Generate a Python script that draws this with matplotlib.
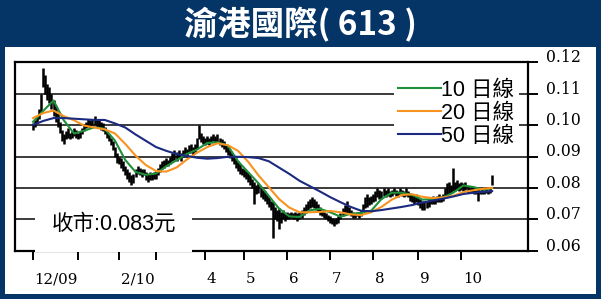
import numpy as np
import matplotlib.pyplot as plt
from matplotlib.patches import Rectangle

# daily high / low (in thousandths of HK$), trading days from 1 Dec 2009
hi = [100.5, 101.5, 103, 105, 110, 118, 116, 113, 112, 110,
      108, 106, 104, 101, 98.5, 97, 98, 99, 97.5, 98,
      99, 98.5, 97.5, 98, 99, 100, 101, 102, 101.5, 102,
      103, 102, 101.5, 101, 100.5, 99.5, 98.5, 97, 96, 95,
      93, 91, 90, 89.5, 88.5, 87, 86, 85, 84, 84.5,
      86, 87, 86.5, 86, 86, 85, 84.5, 85, 84.5, 85,
      85.5, 86.5, 87.5, 88.5, 89, 89.5, 89, 90, 91, 92,
      91.5, 92, 91, 92, 93, 92.5, 93.5, 94, 93, 94,
      96, 100, 97.5, 96.5, 96, 96.5, 96, 96.5, 97, 96.5,
      97, 96, 95.5, 95, 94, 93, 92, 91, 90, 89.5,
      88.5, 87.5, 86.5, 86, 85.5, 85, 84, 83, 82, 81,
      81.5, 80, 79.5, 79, 78, 77, 76, 75.5, 74, 73,
      73.5, 72.5, 73, 72, 72.5, 72, 72.5, 72, 72.5, 72,
      72.5, 73, 74, 75, 76, 76.5, 77, 76.5, 76, 75,
      74, 73, 72.5, 72, 71.5, 71, 70.5, 70, 70.5, 71,
      72, 73.5, 74.5, 76, 74, 73, 72.5, 72, 72.5, 72,
      73, 75, 77, 78, 77, 77.5, 78, 79, 80, 79.5,
      79, 80, 79.5, 80, 79, 79.5, 80, 79.5, 79, 80,
      79.5, 79, 80, 79, 78.5, 78, 77.5, 78, 77, 76.5,
      76, 75.5, 76, 76.5, 77, 77.5, 77, 77.5, 78, 77.5,
      78, 80, 81.5, 82, 81, 86.5, 82, 82.5, 81.5, 82,
      81.5, 82, 80.5, 80, 80.5, 80, 79.5, 80, 79.5, 80,
      79.5, 80, 79.5, 80, 84]
lo = [98.5, 99.5, 100.5, 102, 104, 112, 110, 108, 107, 105,
      103, 101, 99.5, 97.5, 95, 94, 95.5, 96, 95.5, 96,
      96.5, 96, 95.5, 96, 97, 98, 99, 99.5, 99, 100,
      100, 99.5, 99, 98.5, 98, 97, 96, 95, 93.5, 92,
      90, 88, 87.5, 86.5, 85.5, 84, 83, 82, 81, 81.5,
      83.5, 84.5, 84, 83.5, 84, 82.5, 82, 82.5, 82.5, 83,
      83, 84, 85, 86, 86.5, 87, 87, 87.5, 88.5, 89,
      88.5, 89.5, 88.5, 90, 90.5, 90, 91, 91, 90.5, 91.5,
      92.5, 95.5, 94.5, 94, 93.5, 94, 93.5, 94.5, 95, 94.5,
      94.5, 93.5, 93, 92.5, 91.5, 90.5, 89.5, 88.5, 87.5, 86.5,
      85.5, 84.5, 84, 83.5, 83, 82, 81, 80, 75, 78,
      78.5, 77, 76.5, 76, 75, 74, 73, 64, 70, 69.5,
      67, 69, 70, 69.5, 70, 70, 70.5, 70, 70, 69.5,
      70, 70.5, 71.5, 72, 73, 73.5, 74, 73.5, 73, 72.5,
      71.5, 71, 70.5, 70, 69.5, 69, 68.5, 68, 68.5, 69,
      70, 71, 71.5, 72, 72, 71, 70.5, 70.5, 71, 70.5,
      71, 72.5, 73.5, 74, 74.5, 75, 75.5, 76, 77, 76.5,
      76.5, 77.5, 77, 77.5, 77, 77.5, 78, 77.5, 77, 78,
      77.5, 77, 77.5, 77, 76, 75.5, 75, 75.5, 74.5, 73.5,
      73, 73, 73.5, 74, 75, 75, 75, 75.5, 75.5, 75.5,
      76, 77, 77.5, 78, 78.5, 79, 79, 79.5, 79, 79.5,
      79, 79.5, 78.5, 78.5, 78.5, 78, 78, 76, 78, 78,
      78, 78.5, 78, 78.5, 81]
last_close = 0.083

# moving averages read every 5 trading days
ma_days = list(range(0, 221, 5)) + [224]
ma10 = [101, 104.5, 107.8, 101.5, 97.3, 98.2, 99.3, 98.8, 95, 88.9,
        85.1, 84.2, 84.6, 86.9, 88.8, 90.8, 92.2, 94.3, 94.5, 93.5,
        88.5, 85, 81.5, 77.5, 73.5, 71, 70.8, 72.9, 73.4, 72.3,
        70.9, 71.8, 72.1, 72.8, 76.5, 78.5, 78.5, 77.8, 76.3, 76.5,
        77, 78.5, 80.8, 80.3, 79.4, 80]
ma20 = [102.2, 103.8, 104.6, 102.8, 101.5, 99.8, 99.2, 98.6, 97.3, 94,
        90.3, 87.3, 85.4, 85.2, 86.5, 89, 91.2, 93, 94.2, 93.6,
        91.8, 88.3, 84, 80.3, 76.5, 73.8, 72.3, 72.3, 72.4, 72.7,
        72.3, 71.6, 71.4, 72.3, 74, 76.3, 77.8, 78, 77.2, 76.8,
        77, 77.5, 78.7, 79.3, 79.8, 80]
ma50 = [100, 101.3, 102.2, 102.2, 102, 101.8, 101.6, 101.6, 100.5, 99.2,
        97, 95, 93, 91.8, 90.8, 90.2, 89.6, 89.3, 89.5, 89.9,
        89.9, 89.8, 89.5, 88.5, 86.5, 84.5, 82.3, 80.6, 78.9, 77.1,
        75.5, 74, 72.8, 72.6, 73, 73.5, 74, 74.6, 75.4, 76,
        76.6, 77.3, 78.1, 78.5, 78.8, 79]

# month starts (trading-day index) and labels
month_ticks = [0, 22, 42, 60, 84, 103, 124, 145, 166, 188, 209]
label_days = [0, 42, 84, 103, 124, 145, 166, 188, 209]
label_text = ["12/09", "2/10", "4", "5", "6", "7", "8", "9", "10"]
yticks = [0.06, 0.07, 0.08, 0.09, 0.10, 0.11, 0.12]

NAVY = "#053466"
plt.rcParams["font.family"] = ["Liberation Sans", "Noto Sans CJK TC"]

fig = plt.figure(figsize=(6.01, 2.99), dpi=100, facecolor=NAVY)
W, H = 601, 299
fig.patches.append(Rectangle((5 / W, 5 / H), 591 / W, 247 / H, transform=fig.transFigure,
                             facecolor="white", edgecolor="none", zorder=-1))
fig.text(0.5, 0.918, "渝港國際( 613 )", color="white", fontsize=24, weight="bold",
         family=["Noto Sans CJK TC"], ha="center", va="center")

ax = fig.add_axes([15 / W, 48 / H, 513 / W, 189 / H])
ax.set_zorder(1)
ax.set_facecolor("white")

days = np.arange(len(hi))
ax.vlines(days, np.array(lo) / 1000, np.array(hi) / 1000, color="black", lw=1.8, zorder=3)

d = np.array(ma_days)
l10, = ax.plot(d, np.array(ma10) / 1000, color="#1f8f3a", lw=1.5, zorder=4, label="10 日線")
l20, = ax.plot(d, np.array(ma20) / 1000, color="#f7931e", lw=1.5, zorder=4, label="20 日線")
l50, = ax.plot(d, np.array(ma50) / 1000, color="#1b2a80", lw=1.5, zorder=4, label="50 日線")

ax.set_xlim(-8.8, 241.5)
ax.set_ylim(0.06, 0.12)
for v in yticks[1:-1]:
    ax.axhline(v, color="#1a1a1a", lw=1.2, zorder=1)

for s in ax.spines.values():
    s.set_linewidth(1.6)
ax.yaxis.tick_right()
ax.set_yticks(yticks)
ax.set_yticklabels([f"{v:.2f}" for v in yticks], family="DejaVu Serif", fontsize=11.3,
                   va="baseline")
ax.tick_params(axis="y", direction="out", length=7, width=1.4, pad=6)
ax.set_xticks(month_ticks)
ax.set_xticklabels([])
ax.tick_params(axis="x", direction="out", length=6.5, width=1.4)
for xd, t in zip(label_days, label_text):
    ax.text(xd + 0.8, -0.15, t, transform=ax.get_xaxis_transform(), ha="left", va="center",
            family="DejaVu Serif", fontsize=10.8)

leg = ax.legend(handles=[l10, l20, l50], loc="upper right", bbox_to_anchor=(0.982, 0.93),
                frameon=True, fontsize=15.5, handlelength=2.0, handletextpad=0.0,
                labelspacing=0.1, borderpad=0.2, borderaxespad=0)
leg.get_frame().set_edgecolor("none")
leg.get_frame().set_facecolor("white")
leg.get_frame().set_alpha(1)
leg.set_zorder(5)

ax.text(0.192, 0.14, f"收市:{last_close:.3f}元", transform=ax.transAxes, fontsize=15.5,
        ha="center", va="center", zorder=5,
        bbox=dict(facecolor="white", edgecolor="none", pad=12))

fig.savefig("out.png", dpi=100, facecolor=NAVY)
